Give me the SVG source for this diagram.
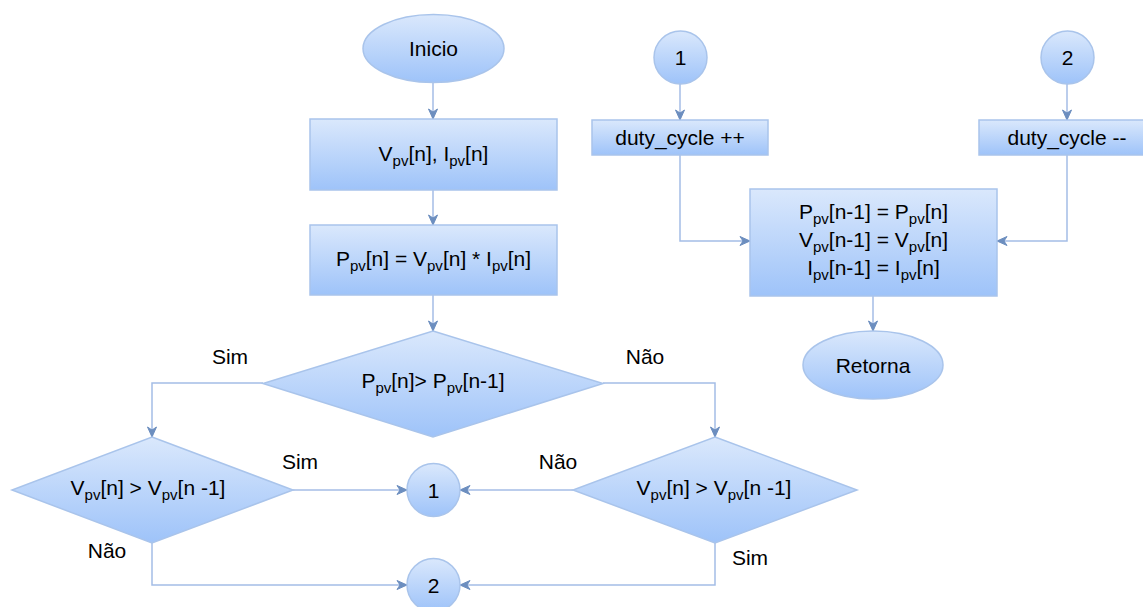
<svg xmlns="http://www.w3.org/2000/svg" width="1143" height="607" viewBox="0 0 1143 607">
<defs>
<linearGradient id="g" x1="0" y1="0" x2="0" y2="1">
<stop offset="0" stop-color="#dae8fc"/>
<stop offset="1" stop-color="#9ec3f9"/>
</linearGradient>
<marker id="arr" markerWidth="12" markerHeight="12" refX="11" refY="6" orient="auto" markerUnits="userSpaceOnUse">
<path d="M1,1.5 L11,6 L1,10.5 L4,6 Z" fill="#6c8ebf" stroke="#6c8ebf" stroke-width="1"/>
</marker>
</defs>
<style>
.s{fill:url(#g);stroke:#a9c4eb;stroke-width:1.5}
.t{font-family:"Liberation Sans",Arial,sans-serif;font-size:21px;fill:#000;text-anchor:middle}
.c{fill:none;stroke:#a4bde6;stroke-width:1.5;marker-end:url(#arr)}
.sb{font-size:15px}
</style>
<rect width="1143" height="607" fill="#fff"/>
<g id="connectors">
<path class="c" d="M433,83 V119"/>
<path class="c" d="M433,190 V225"/>
<path class="c" d="M433,295 V331"/>
<path class="c" d="M263,383 H152 V437"/>
<path class="c" d="M603,383 H715 V437"/>
<path class="c" d="M293,490 H407"/>
<path class="c" d="M573,490 H460"/>
<path class="c" d="M152,543 V585 H407"/>
<path class="c" d="M715,543 V585 H460"/>
<path class="c" d="M680,84 V120"/>
<path class="c" d="M1067,84 V120"/>
<path class="c" d="M680,155 V241 H750"/>
<path class="c" d="M1067,155 V241 H997"/>
<path class="c" d="M873,296 V331"/>
</g>
<g id="labels">
<text class="t" x="230" y="364">Sim</text>
<text class="t" x="645" y="364">Não</text>
<text class="t" x="300" y="469">Sim</text>
<text class="t" x="558" y="469">Não</text>
<text class="t" x="107" y="558">Não</text>
<text class="t" x="750" y="565">Sim</text>
</g>
<g id="inicio">
<ellipse class="s" cx="433.5" cy="48.5" rx="70.5" ry="34"/>
<text class="t" x="433.5" y="56">Inicio</text>
</g>
<g id="leitura">
<rect class="s" x="310" y="119" width="247" height="71"/>
<text class="t" x="433.5" y="161">V<tspan class="sb" dy="5">pv</tspan><tspan dy="-5">[n], I</tspan><tspan class="sb" dy="5">pv</tspan><tspan dy="-5">[n]</tspan></text>
</g>
<g id="potencia">
<rect class="s" x="310" y="225" width="247" height="70"/>
<text class="t" x="433.5" y="266">P<tspan class="sb" dy="5">pv</tspan><tspan dy="-5">[n] = V</tspan><tspan class="sb" dy="5">pv</tspan><tspan dy="-5">[n] * I</tspan><tspan class="sb" dy="5">pv</tspan><tspan dy="-5">[n]</tspan></text>
</g>
<g id="decisao1">
<polygon class="s" points="433,331 603,383.5 433,437 263,383.5"/>
<text class="t" x="433" y="388">P<tspan class="sb" dy="5">pv</tspan><tspan dy="-5">[n]&gt; P</tspan><tspan class="sb" dy="5">pv</tspan><tspan dy="-5">[n-1]</tspan></text>
</g>
<g id="decisao2">
<polygon class="s" points="152,437 293,490 152,543 12,490"/>
<text class="t" x="148" y="495">V<tspan class="sb" dy="5">pv</tspan><tspan dy="-5">[n] &gt; V</tspan><tspan class="sb" dy="5">pv</tspan><tspan dy="-5">[n -1]</tspan></text>
</g>
<g id="decisao3">
<polygon class="s" points="715,437 857,490 715,543 573,490"/>
<text class="t" x="714" y="495">V<tspan class="sb" dy="5">pv</tspan><tspan dy="-5">[n] &gt; V</tspan><tspan class="sb" dy="5">pv</tspan><tspan dy="-5">[n -1]</tspan></text>
</g>
<g id="con1a">
<circle class="s" cx="433.5" cy="490" r="26.5"/>
<text class="t" x="433.5" y="497.5">1</text>
</g>
<g id="con2a">
<circle class="s" cx="433.5" cy="585" r="26.5"/>
<text class="t" x="433.5" y="592.5">2</text>
</g>
<g id="con1b">
<circle class="s" cx="680.5" cy="57.5" r="26.5"/>
<text class="t" x="680.5" y="65">1</text>
</g>
<g id="con2b">
<circle class="s" cx="1067.5" cy="57.5" r="26.5"/>
<text class="t" x="1067.5" y="65">2</text>
</g>
<g id="incremento">
<rect class="s" x="592" y="120" width="176" height="35"/>
<text class="t" x="680" y="144.5">duty_cycle ++</text>
</g>
<g id="decremento">
<rect class="s" x="979" y="120" width="176" height="35"/>
<text class="t" x="1067" y="144.5">duty_cycle --</text>
</g>
<g id="atualizacao">
<rect class="s" x="750" y="189" width="247" height="107"/>
<text class="t" x="873.5" y="219">P<tspan class="sb" dy="5">pv</tspan><tspan dy="-5">[n-1] = P</tspan><tspan class="sb" dy="5">pv</tspan><tspan dy="-5">[n]</tspan></text>
<text class="t" x="873.5" y="247">V<tspan class="sb" dy="5">pv</tspan><tspan dy="-5">[n-1] = V</tspan><tspan class="sb" dy="5">pv</tspan><tspan dy="-5">[n]</tspan></text>
<text class="t" x="873.5" y="275">I<tspan class="sb" dy="5">pv</tspan><tspan dy="-5">[n-1] = I</tspan><tspan class="sb" dy="5">pv</tspan><tspan dy="-5">[n]</tspan></text>
</g>
<g id="retorna">
<ellipse class="s" cx="873" cy="365" rx="70" ry="34"/>
<text class="t" x="873" y="372.5">Retorna</text>
</g>
</svg>
